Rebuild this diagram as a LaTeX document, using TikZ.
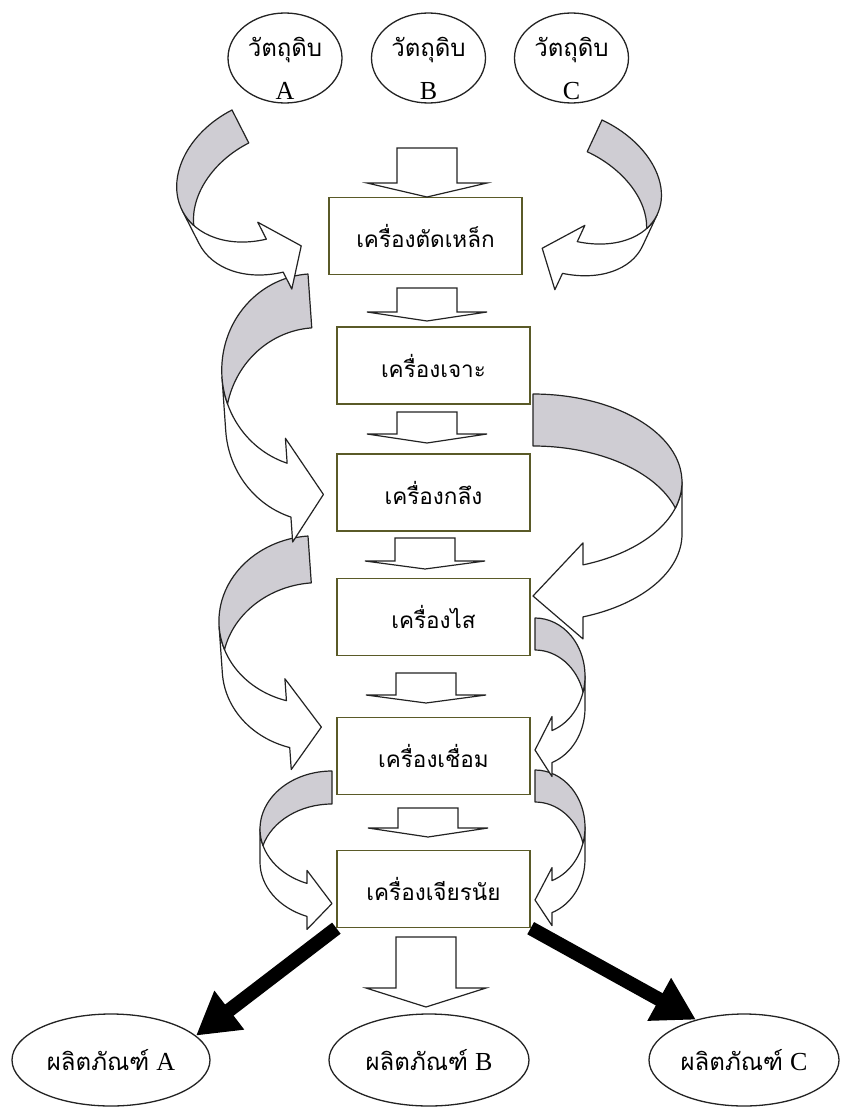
\documentclass[tikz,border=0pt]{standalone}
\usepackage{fontspec}
\setmainfont{Liberation Serif}
\newfontfamily\thai[Script=Thai]{Loma}
\usetikzlibrary{arrows.meta,shapes.geometric}

\definecolor{boxline}{RGB}{90,90,40}
\definecolor{ribbon}{RGB}{207,205,211}
\definecolor{outl}{RGB}{35,35,35}

% curved ribbon arrow: x, y (pixels), rotate, xscale, w, hR, th, ah, dh
\newcommand{\carrow}[9]{%
\begin{scope}[shift={(#1,-#2)},rotate=#3,xscale=#4]
\pgfmathsetmacro\rbAl{asin(#7/(2*#6))}
\pgfmathsetmacro\rbBe{acos(#8/#5)}
\pgfmathsetmacro\rbYf{-#6-#6*sin(\rbBe)}
\draw[ribbonline,fill=white] (-#5,-#6)
  arc[start angle=180,end angle=180+\rbBe,x radius=#5,y radius=#6]
  -- (-#8,\rbYf+#9) -- (0,-2*#6-#7/2) -- (-#8,\rbYf-#7-#9) -- (-#8,\rbYf-#7)
  arc[start angle=180+\rbBe,end angle=180,x radius=#5,y radius=#6] -- cycle;
\draw[ribbonline,fill=ribbon] (0,-#7)
  arc[start angle=90,end angle=180-\rbAl,x radius=#5,y radius=#6]
  arc[start angle=180+\rbAl,end angle=90,x radius=#5,y radius=#6] -- cycle;
\end{scope}}

% block down arrow: cx, top, head base, tip (pixels)
\newcommand{\blockdown}[4]{%
\draw[blockarrow] (#1-30,-#2) -- (#1+30,-#2) -- (#1+30,-#3) -- (#1+60,-#3)
  -- (#1,-#4) -- (#1-60,-#3) -- (#1-30,-#3) -- cycle;}

% two-line text of the raw-material ellipses
\newcommand{\rawtext}[1]{\raisebox{-20pt}[0pt][0pt]{\fontsize{24}{30}\selectfont
  \begin{tabular}{@{}c@{}}{\thai\fontsize{24}{30}\selectfont วัตถุดิบ}\\[13pt]
  {\fontsize{26}{30}\selectfont #1}\end{tabular}}}
\newcommand{\prodtext}[1]{{\thai\fontsize{24}{28}\selectfont ผลิตภัณฑ์}\hspace{7pt}{\fontsize{26}{28}\selectfont #1}}

\tikzset{
 machine/.style={draw=boxline,line width=1.3pt,minimum width=193pt,minimum height=77pt,
   inner sep=0pt,font=\thai\fontsize{22.5}{26}\selectfont,fill=white},
 rawell/.style={ellipse,draw=outl,line width=1.3pt,minimum width=114pt,minimum height=90pt,
   inner sep=0pt},
 prodell/.style={ellipse,draw=outl,line width=1.3pt,minimum height=92pt,inner sep=0pt},
 ribbonline/.style={draw=outl,line width=1.2pt,line join=round},
 blockarrow/.style={draw=outl,line width=1.2pt,fill=white,line join=miter},
 heavy/.style={line width=14pt,black,-{Triangle[length=42pt,width=46pt]}}
}

\begin{document}
\begin{tikzpicture}[x=1pt,y=1pt]
\useasboundingbox (0,0) rectangle (841,-1108);
\fill[white] (0,0) rectangle (841,-1108);

% raw materials
\node[rawell] (rA) at (285,-58) {\rawtext{A}};
\node[rawell] (rB) at (428.5,-58) {\rawtext{B}};
\node[rawell] (rC) at (571.5,-58) {\rawtext{C}};

% machines
\node[machine] (m1) at (425.5,-236) {เครื่องตัดเหล็ก};
\node[machine] (m2) at (433.5,-365.5) {เครื่องเจาะ};
\node[machine] (m3) at (433.5,-492.5) {เครื่องกลึง};
\node[machine] (m4) at (433.5,-617) {เครื่องไส};
\node[machine] (m5) at (433.5,-756) {เครื่องเชื่อม};
\node[machine] (m6) at (433.5,-889) {เครื่องเจียรนัย};

% products
\node[prodell,minimum width=198pt] (pA) at (111,-1060) {\prodtext{A}};
\node[prodell,minimum width=200pt] (pB) at (429,-1060) {\prodtext{B}};
\node[prodell,minimum width=190pt] (pC) at (744,-1060) {\prodtext{C}};

% straight block arrows
\blockdown{427}{148}{183}{197}
\blockdown{427}{288}{312}{321}
\blockdown{427}{412}{434}{443}
\blockdown{425}{538}{561}{569}
\blockdown{426}{673}{695}{703}
\blockdown{428}{808}{828}{837}
\blockdown{426}{937}{988}{1007}

% curved ribbon arrows (bottom first)
\carrow{535}{770}{0}{-1}{50}{57}{32}{17}{13}
\carrow{332}{771}{0}{1}{72}{58}{33}{25}{13}
\carrow{535}{618}{0}{-1}{50}{58}{32}{17}{14}
\carrow{308}{536}{4}{1}{95}{84}{47}{33}{22}
\carrow{533}{394}{0}{-1}{149}{88}{52}{50}{22}
\carrow{602}{120}{-25}{-1}{90}{62}{35}{29}{18}
\carrow{308}{274}{4}{1}{93}{97}{54}{34}{25}
\carrow{232}{110}{27}{1}{90}{67}{37}{28}{19}

% heavy output arrows
\draw[heavy] (m6.south west) -- (pA.16);
\draw[heavy] (m6.south east) -- (pC.140);
\end{tikzpicture}
\end{document}
